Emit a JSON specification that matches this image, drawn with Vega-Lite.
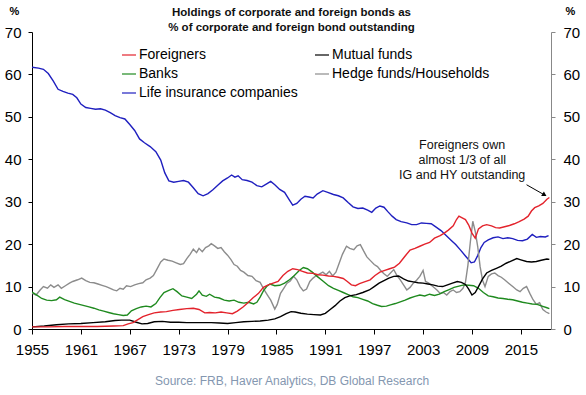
{
  "$schema": "https://vega.github.io/schema/vega-lite/v6.json",
  "width": 519,
  "height": 297,
  "autosize": {"type": "none"},
  "padding": {"left": 32, "top": 32, "right": 35, "bottom": 66},
  "background": "white",
  "config": {
    "font": "Liberation Sans",
    "view": {"stroke": null},
    "axis": {"grid": false, "labelFont": "Liberation Sans", "titleFont": "Liberation Sans"}
  },
  "title": {
    "text": ["Holdings of corporate and foreign bonds as", "% of corporate and foreign bond outstanding"],
    "fontSize": 11.5,
    "fontWeight": "bold",
    "font": "Liberation Sans",
    "color": "#111111",
    "anchor": "middle",
    "lineHeight": 15,
    "offset": -28
  },
  "datasets": {
    "raw": [
      {"series":"Life insurance companies","year":1955.0,"pct":61.7},
      {"series":"Life insurance companies","year":1955.8,"pct":61.5},
      {"series":"Life insurance companies","year":1956.4,"pct":61.2},
      {"series":"Life insurance companies","year":1957.0,"pct":60.2},
      {"series":"Life insurance companies","year":1957.6,"pct":58.5},
      {"series":"Life insurance companies","year":1958.2,"pct":56.5},
      {"series":"Life insurance companies","year":1958.8,"pct":56.0},
      {"series":"Life insurance companies","year":1959.4,"pct":55.6},
      {"series":"Life insurance companies","year":1960.0,"pct":55.3},
      {"series":"Life insurance companies","year":1960.5,"pct":54.5},
      {"series":"Life insurance companies","year":1961.0,"pct":53.0},
      {"series":"Life insurance companies","year":1961.6,"pct":52.2},
      {"series":"Life insurance companies","year":1962.2,"pct":52.0},
      {"series":"Life insurance companies","year":1962.8,"pct":51.8},
      {"series":"Life insurance companies","year":1963.4,"pct":51.9},
      {"series":"Life insurance companies","year":1964.0,"pct":51.6},
      {"series":"Life insurance companies","year":1964.6,"pct":51.0},
      {"series":"Life insurance companies","year":1965.2,"pct":50.3},
      {"series":"Life insurance companies","year":1965.8,"pct":49.8},
      {"series":"Life insurance companies","year":1966.4,"pct":49.5},
      {"series":"Life insurance companies","year":1967.0,"pct":48.2},
      {"series":"Life insurance companies","year":1967.6,"pct":46.8},
      {"series":"Life insurance companies","year":1968.2,"pct":44.8},
      {"series":"Life insurance companies","year":1968.8,"pct":43.9},
      {"series":"Life insurance companies","year":1969.5,"pct":43.0},
      {"series":"Life insurance companies","year":1970.2,"pct":41.8},
      {"series":"Life insurance companies","year":1970.8,"pct":39.8},
      {"series":"Life insurance companies","year":1971.3,"pct":36.8},
      {"series":"Life insurance companies","year":1971.8,"pct":34.9},
      {"series":"Life insurance companies","year":1972.4,"pct":34.6},
      {"series":"Life insurance companies","year":1973.0,"pct":34.8},
      {"series":"Life insurance companies","year":1973.6,"pct":35.0},
      {"series":"Life insurance companies","year":1974.2,"pct":34.6},
      {"series":"Life insurance companies","year":1974.8,"pct":33.3},
      {"series":"Life insurance companies","year":1975.4,"pct":31.9},
      {"series":"Life insurance companies","year":1976.0,"pct":31.4},
      {"series":"Life insurance companies","year":1976.6,"pct":31.9},
      {"series":"Life insurance companies","year":1977.2,"pct":32.8},
      {"series":"Life insurance companies","year":1977.8,"pct":33.9},
      {"series":"Life insurance companies","year":1978.4,"pct":34.9},
      {"series":"Life insurance companies","year":1979.0,"pct":35.6},
      {"series":"Life insurance companies","year":1979.5,"pct":36.3},
      {"series":"Life insurance companies","year":1979.9,"pct":35.8},
      {"series":"Life insurance companies","year":1980.3,"pct":36.1},
      {"series":"Life insurance companies","year":1980.8,"pct":35.2},
      {"series":"Life insurance companies","year":1981.4,"pct":35.0},
      {"series":"Life insurance companies","year":1982.0,"pct":34.6},
      {"series":"Life insurance companies","year":1982.6,"pct":33.8},
      {"series":"Life insurance companies","year":1983.2,"pct":33.5},
      {"series":"Life insurance companies","year":1983.8,"pct":34.2},
      {"series":"Life insurance companies","year":1984.3,"pct":34.8},
      {"series":"Life insurance companies","year":1984.8,"pct":34.0},
      {"series":"Life insurance companies","year":1985.4,"pct":32.9},
      {"series":"Life insurance companies","year":1986.0,"pct":32.2},
      {"series":"Life insurance companies","year":1986.6,"pct":30.4},
      {"series":"Life insurance companies","year":1987.0,"pct":29.2},
      {"series":"Life insurance companies","year":1987.5,"pct":29.6},
      {"series":"Life insurance companies","year":1988.0,"pct":30.6},
      {"series":"Life insurance companies","year":1988.5,"pct":31.3},
      {"series":"Life insurance companies","year":1989.0,"pct":31.1},
      {"series":"Life insurance companies","year":1989.5,"pct":30.9},
      {"series":"Life insurance companies","year":1990.0,"pct":31.8},
      {"series":"Life insurance companies","year":1990.7,"pct":32.6},
      {"series":"Life insurance companies","year":1991.3,"pct":32.2},
      {"series":"Life insurance companies","year":1992.0,"pct":31.7},
      {"series":"Life insurance companies","year":1992.6,"pct":31.4},
      {"series":"Life insurance companies","year":1993.2,"pct":30.9},
      {"series":"Life insurance companies","year":1993.8,"pct":29.8},
      {"series":"Life insurance companies","year":1994.4,"pct":28.8},
      {"series":"Life insurance companies","year":1995.0,"pct":28.4},
      {"series":"Life insurance companies","year":1995.6,"pct":28.5},
      {"series":"Life insurance companies","year":1996.2,"pct":28.0},
      {"series":"Life insurance companies","year":1996.7,"pct":27.5},
      {"series":"Life insurance companies","year":1997.2,"pct":28.5},
      {"series":"Life insurance companies","year":1997.7,"pct":29.0},
      {"series":"Life insurance companies","year":1998.2,"pct":28.7},
      {"series":"Life insurance companies","year":1998.7,"pct":27.6},
      {"series":"Life insurance companies","year":1999.2,"pct":26.6},
      {"series":"Life insurance companies","year":1999.7,"pct":25.8},
      {"series":"Life insurance companies","year":2000.3,"pct":25.3},
      {"series":"Life insurance companies","year":2001.0,"pct":25.0},
      {"series":"Life insurance companies","year":2001.6,"pct":24.6},
      {"series":"Life insurance companies","year":2002.2,"pct":24.6},
      {"series":"Life insurance companies","year":2002.8,"pct":25.0},
      {"series":"Life insurance companies","year":2003.4,"pct":24.9},
      {"series":"Life insurance companies","year":2004.0,"pct":24.8},
      {"series":"Life insurance companies","year":2004.6,"pct":24.0},
      {"series":"Life insurance companies","year":2005.2,"pct":23.2},
      {"series":"Life insurance companies","year":2005.8,"pct":22.1},
      {"series":"Life insurance companies","year":2006.4,"pct":21.0},
      {"series":"Life insurance companies","year":2007.0,"pct":19.9},
      {"series":"Life insurance companies","year":2007.6,"pct":18.6},
      {"series":"Life insurance companies","year":2008.2,"pct":17.2},
      {"series":"Life insurance companies","year":2008.9,"pct":15.6},
      {"series":"Life insurance companies","year":2009.3,"pct":15.8},
      {"series":"Life insurance companies","year":2009.7,"pct":17.3},
      {"series":"Life insurance companies","year":2010.1,"pct":19.2},
      {"series":"Life insurance companies","year":2010.5,"pct":20.4},
      {"series":"Life insurance companies","year":2011.0,"pct":21.0},
      {"series":"Life insurance companies","year":2011.6,"pct":21.5},
      {"series":"Life insurance companies","year":2012.2,"pct":21.7},
      {"series":"Life insurance companies","year":2012.8,"pct":21.3},
      {"series":"Life insurance companies","year":2013.4,"pct":21.5},
      {"series":"Life insurance companies","year":2014.0,"pct":21.3},
      {"series":"Life insurance companies","year":2014.6,"pct":20.9},
      {"series":"Life insurance companies","year":2015.2,"pct":20.8},
      {"series":"Life insurance companies","year":2015.8,"pct":21.2},
      {"series":"Life insurance companies","year":2016.4,"pct":22.3},
      {"series":"Life insurance companies","year":2016.9,"pct":21.6},
      {"series":"Life insurance companies","year":2017.4,"pct":21.8},
      {"series":"Life insurance companies","year":2018.0,"pct":21.7},
      {"series":"Life insurance companies","year":2018.4,"pct":22.0},

      {"series":"Hedge funds/Households","year":1955.0,"pct":8.4},
      {"series":"Hedge funds/Households","year":1955.5,"pct":8.0},
      {"series":"Hedge funds/Households","year":1956.0,"pct":9.2},
      {"series":"Hedge funds/Households","year":1956.4,"pct":10.0},
      {"series":"Hedge funds/Households","year":1956.9,"pct":9.6},
      {"series":"Hedge funds/Households","year":1957.3,"pct":10.4},
      {"series":"Hedge funds/Households","year":1957.7,"pct":9.8},
      {"series":"Hedge funds/Households","year":1958.2,"pct":10.4},
      {"series":"Hedge funds/Households","year":1958.6,"pct":9.6},
      {"series":"Hedge funds/Households","year":1959.1,"pct":10.2},
      {"series":"Hedge funds/Households","year":1959.6,"pct":10.8},
      {"series":"Hedge funds/Households","year":1960.0,"pct":11.2},
      {"series":"Hedge funds/Households","year":1960.6,"pct":11.6},
      {"series":"Hedge funds/Households","year":1961.1,"pct":12.0},
      {"series":"Hedge funds/Households","year":1961.6,"pct":11.4},
      {"series":"Hedge funds/Households","year":1962.1,"pct":11.0},
      {"series":"Hedge funds/Households","year":1962.6,"pct":10.9},
      {"series":"Hedge funds/Households","year":1963.1,"pct":10.6},
      {"series":"Hedge funds/Households","year":1963.6,"pct":10.3},
      {"series":"Hedge funds/Households","year":1964.1,"pct":10.0},
      {"series":"Hedge funds/Households","year":1964.6,"pct":9.6},
      {"series":"Hedge funds/Households","year":1965.0,"pct":9.2},
      {"series":"Hedge funds/Households","year":1965.4,"pct":9.0},
      {"series":"Hedge funds/Households","year":1965.8,"pct":9.6},
      {"series":"Hedge funds/Households","year":1966.2,"pct":9.4},
      {"series":"Hedge funds/Households","year":1966.6,"pct":10.2},
      {"series":"Hedge funds/Households","year":1967.1,"pct":10.0},
      {"series":"Hedge funds/Households","year":1967.6,"pct":10.4},
      {"series":"Hedge funds/Households","year":1968.1,"pct":10.7},
      {"series":"Hedge funds/Households","year":1968.6,"pct":10.9},
      {"series":"Hedge funds/Households","year":1969.0,"pct":11.6},
      {"series":"Hedge funds/Households","year":1969.5,"pct":12.0},
      {"series":"Hedge funds/Households","year":1969.9,"pct":12.6},
      {"series":"Hedge funds/Households","year":1970.3,"pct":14.0},
      {"series":"Hedge funds/Households","year":1970.8,"pct":15.8},
      {"series":"Hedge funds/Households","year":1971.2,"pct":16.5},
      {"series":"Hedge funds/Households","year":1971.7,"pct":16.2},
      {"series":"Hedge funds/Households","year":1972.2,"pct":16.0},
      {"series":"Hedge funds/Households","year":1972.7,"pct":15.6},
      {"series":"Hedge funds/Households","year":1973.2,"pct":15.2},
      {"series":"Hedge funds/Households","year":1973.6,"pct":15.4},
      {"series":"Hedge funds/Households","year":1974.0,"pct":16.6},
      {"series":"Hedge funds/Households","year":1974.4,"pct":17.6},
      {"series":"Hedge funds/Households","year":1974.8,"pct":18.8},
      {"series":"Hedge funds/Households","year":1975.2,"pct":18.0},
      {"series":"Hedge funds/Households","year":1975.5,"pct":19.0},
      {"series":"Hedge funds/Households","year":1975.9,"pct":18.2},
      {"series":"Hedge funds/Households","year":1976.3,"pct":19.2},
      {"series":"Hedge funds/Households","year":1976.7,"pct":19.6},
      {"series":"Hedge funds/Households","year":1977.0,"pct":20.1},
      {"series":"Hedge funds/Households","year":1977.4,"pct":19.6},
      {"series":"Hedge funds/Households","year":1977.8,"pct":19.0},
      {"series":"Hedge funds/Households","year":1978.2,"pct":19.2},
      {"series":"Hedge funds/Households","year":1978.6,"pct":18.2},
      {"series":"Hedge funds/Households","year":1979.0,"pct":17.4},
      {"series":"Hedge funds/Households","year":1979.4,"pct":16.4},
      {"series":"Hedge funds/Households","year":1979.8,"pct":15.2},
      {"series":"Hedge funds/Households","year":1980.2,"pct":14.8},
      {"series":"Hedge funds/Households","year":1980.6,"pct":13.8},
      {"series":"Hedge funds/Households","year":1981.0,"pct":13.4},
      {"series":"Hedge funds/Households","year":1981.5,"pct":12.6},
      {"series":"Hedge funds/Households","year":1982.0,"pct":12.4},
      {"series":"Hedge funds/Households","year":1982.5,"pct":11.4},
      {"series":"Hedge funds/Households","year":1983.0,"pct":11.0},
      {"series":"Hedge funds/Households","year":1983.5,"pct":9.2},
      {"series":"Hedge funds/Households","year":1983.9,"pct":8.0},
      {"series":"Hedge funds/Households","year":1984.3,"pct":6.8},
      {"series":"Hedge funds/Households","year":1984.8,"pct":4.7},
      {"series":"Hedge funds/Households","year":1985.1,"pct":5.8},
      {"series":"Hedge funds/Households","year":1985.5,"pct":8.4},
      {"series":"Hedge funds/Households","year":1985.9,"pct":9.6},
      {"series":"Hedge funds/Households","year":1986.3,"pct":10.8},
      {"series":"Hedge funds/Households","year":1986.7,"pct":11.3},
      {"series":"Hedge funds/Households","year":1987.1,"pct":12.4},
      {"series":"Hedge funds/Households","year":1987.5,"pct":11.6},
      {"series":"Hedge funds/Households","year":1987.9,"pct":10.0},
      {"series":"Hedge funds/Households","year":1988.3,"pct":9.0},
      {"series":"Hedge funds/Households","year":1988.7,"pct":9.4},
      {"series":"Hedge funds/Households","year":1989.1,"pct":11.2},
      {"series":"Hedge funds/Households","year":1989.5,"pct":12.0},
      {"series":"Hedge funds/Households","year":1989.9,"pct":12.6},
      {"series":"Hedge funds/Households","year":1990.3,"pct":13.0},
      {"series":"Hedge funds/Households","year":1990.7,"pct":13.4},
      {"series":"Hedge funds/Households","year":1991.1,"pct":12.8},
      {"series":"Hedge funds/Households","year":1991.5,"pct":13.6},
      {"series":"Hedge funds/Households","year":1991.9,"pct":12.5},
      {"series":"Hedge funds/Households","year":1992.3,"pct":13.4},
      {"series":"Hedge funds/Households","year":1992.7,"pct":15.5},
      {"series":"Hedge funds/Households","year":1993.1,"pct":17.6},
      {"series":"Hedge funds/Households","year":1993.6,"pct":19.5},
      {"series":"Hedge funds/Households","year":1994.0,"pct":19.0},
      {"series":"Hedge funds/Households","year":1994.5,"pct":18.7},
      {"series":"Hedge funds/Households","year":1994.9,"pct":19.6},
      {"series":"Hedge funds/Households","year":1995.3,"pct":19.9},
      {"series":"Hedge funds/Households","year":1995.7,"pct":18.4},
      {"series":"Hedge funds/Households","year":1996.1,"pct":17.0},
      {"series":"Hedge funds/Households","year":1996.6,"pct":16.0},
      {"series":"Hedge funds/Households","year":1997.0,"pct":15.2},
      {"series":"Hedge funds/Households","year":1997.4,"pct":14.7},
      {"series":"Hedge funds/Households","year":1997.8,"pct":13.8},
      {"series":"Hedge funds/Households","year":1998.2,"pct":13.0},
      {"series":"Hedge funds/Households","year":1998.6,"pct":12.4},
      {"series":"Hedge funds/Households","year":1999.0,"pct":13.2},
      {"series":"Hedge funds/Households","year":1999.4,"pct":14.0},
      {"series":"Hedge funds/Households","year":1999.8,"pct":12.6},
      {"series":"Hedge funds/Households","year":2000.2,"pct":11.6},
      {"series":"Hedge funds/Households","year":2000.6,"pct":10.4},
      {"series":"Hedge funds/Households","year":2001.0,"pct":9.2},
      {"series":"Hedge funds/Households","year":2001.4,"pct":9.8},
      {"series":"Hedge funds/Households","year":2001.8,"pct":10.8},
      {"series":"Hedge funds/Households","year":2002.2,"pct":11.5},
      {"series":"Hedge funds/Households","year":2002.6,"pct":12.4},
      {"series":"Hedge funds/Households","year":2003.0,"pct":13.8},
      {"series":"Hedge funds/Households","year":2003.3,"pct":11.2},
      {"series":"Hedge funds/Households","year":2003.7,"pct":10.8},
      {"series":"Hedge funds/Households","year":2004.2,"pct":10.0},
      {"series":"Hedge funds/Households","year":2004.7,"pct":9.2},
      {"series":"Hedge funds/Households","year":2005.1,"pct":8.4},
      {"series":"Hedge funds/Households","year":2005.5,"pct":8.6},
      {"series":"Hedge funds/Households","year":2005.9,"pct":8.0},
      {"series":"Hedge funds/Households","year":2006.3,"pct":8.8},
      {"series":"Hedge funds/Households","year":2006.7,"pct":9.2},
      {"series":"Hedge funds/Households","year":2007.1,"pct":8.6},
      {"series":"Hedge funds/Households","year":2007.5,"pct":8.8},
      {"series":"Hedge funds/Households","year":2007.9,"pct":9.6},
      {"series":"Hedge funds/Households","year":2008.2,"pct":11.0},
      {"series":"Hedge funds/Households","year":2008.5,"pct":15.0},
      {"series":"Hedge funds/Households","year":2008.8,"pct":20.5},
      {"series":"Hedge funds/Households","year":2009.1,"pct":25.4},
      {"series":"Hedge funds/Households","year":2009.4,"pct":23.0},
      {"series":"Hedge funds/Households","year":2009.7,"pct":19.5},
      {"series":"Hedge funds/Households","year":2010.0,"pct":14.7},
      {"series":"Hedge funds/Households","year":2010.3,"pct":11.5},
      {"series":"Hedge funds/Households","year":2010.6,"pct":10.0},
      {"series":"Hedge funds/Households","year":2011.0,"pct":12.4},
      {"series":"Hedge funds/Households","year":2011.4,"pct":13.0},
      {"series":"Hedge funds/Households","year":2011.8,"pct":13.2},
      {"series":"Hedge funds/Households","year":2012.2,"pct":12.6},
      {"series":"Hedge funds/Households","year":2012.6,"pct":12.2},
      {"series":"Hedge funds/Households","year":2013.0,"pct":11.6},
      {"series":"Hedge funds/Households","year":2013.5,"pct":10.8},
      {"series":"Hedge funds/Households","year":2014.0,"pct":10.0},
      {"series":"Hedge funds/Households","year":2014.5,"pct":9.2},
      {"series":"Hedge funds/Households","year":2014.9,"pct":8.8},
      {"series":"Hedge funds/Households","year":2015.3,"pct":9.6},
      {"series":"Hedge funds/Households","year":2015.7,"pct":10.0},
      {"series":"Hedge funds/Households","year":2016.1,"pct":8.4},
      {"series":"Hedge funds/Households","year":2016.5,"pct":6.9},
      {"series":"Hedge funds/Households","year":2016.9,"pct":5.8},
      {"series":"Hedge funds/Households","year":2017.3,"pct":6.2},
      {"series":"Hedge funds/Households","year":2017.7,"pct":4.6},
      {"series":"Hedge funds/Households","year":2018.1,"pct":4.0},
      {"series":"Hedge funds/Households","year":2018.5,"pct":3.6},

      {"series":"Banks","year":1955.0,"pct":8.7},
      {"series":"Banks","year":1955.6,"pct":8.0},
      {"series":"Banks","year":1956.2,"pct":7.2},
      {"series":"Banks","year":1956.8,"pct":6.8},
      {"series":"Banks","year":1957.4,"pct":6.7},
      {"series":"Banks","year":1958.0,"pct":6.9},
      {"series":"Banks","year":1958.4,"pct":7.5},
      {"series":"Banks","year":1959.0,"pct":6.9},
      {"series":"Banks","year":1959.6,"pct":6.5},
      {"series":"Banks","year":1960.2,"pct":6.1},
      {"series":"Banks","year":1960.8,"pct":5.8},
      {"series":"Banks","year":1961.4,"pct":5.5},
      {"series":"Banks","year":1962.0,"pct":5.2},
      {"series":"Banks","year":1962.6,"pct":4.9},
      {"series":"Banks","year":1963.2,"pct":4.5},
      {"series":"Banks","year":1963.8,"pct":4.2},
      {"series":"Banks","year":1964.4,"pct":3.9},
      {"series":"Banks","year":1965.0,"pct":3.6},
      {"series":"Banks","year":1965.6,"pct":3.4},
      {"series":"Banks","year":1966.2,"pct":3.2},
      {"series":"Banks","year":1966.7,"pct":3.3},
      {"series":"Banks","year":1967.2,"pct":4.3},
      {"series":"Banks","year":1967.8,"pct":4.8},
      {"series":"Banks","year":1968.4,"pct":5.2},
      {"series":"Banks","year":1969.0,"pct":5.4},
      {"series":"Banks","year":1969.6,"pct":5.2},
      {"series":"Banks","year":1970.2,"pct":6.0},
      {"series":"Banks","year":1970.7,"pct":7.4},
      {"series":"Banks","year":1971.2,"pct":8.6},
      {"series":"Banks","year":1971.8,"pct":9.1},
      {"series":"Banks","year":1972.3,"pct":9.5},
      {"series":"Banks","year":1972.8,"pct":8.8},
      {"series":"Banks","year":1973.4,"pct":7.8},
      {"series":"Banks","year":1974.0,"pct":7.5},
      {"series":"Banks","year":1974.6,"pct":7.2},
      {"series":"Banks","year":1975.2,"pct":8.2},
      {"series":"Banks","year":1975.5,"pct":9.0},
      {"series":"Banks","year":1975.9,"pct":8.0},
      {"series":"Banks","year":1976.4,"pct":7.7},
      {"series":"Banks","year":1976.8,"pct":8.2},
      {"series":"Banks","year":1977.4,"pct":7.5},
      {"series":"Banks","year":1978.0,"pct":7.3},
      {"series":"Banks","year":1978.6,"pct":6.8},
      {"series":"Banks","year":1979.2,"pct":6.6},
      {"series":"Banks","year":1979.8,"pct":6.8},
      {"series":"Banks","year":1980.4,"pct":6.3},
      {"series":"Banks","year":1981.0,"pct":6.1},
      {"series":"Banks","year":1981.6,"pct":6.3},
      {"series":"Banks","year":1982.2,"pct":5.9},
      {"series":"Banks","year":1982.6,"pct":6.3},
      {"series":"Banks","year":1983.0,"pct":7.5},
      {"series":"Banks","year":1983.4,"pct":9.0},
      {"series":"Banks","year":1983.8,"pct":10.0},
      {"series":"Banks","year":1984.2,"pct":10.6},
      {"series":"Banks","year":1984.8,"pct":10.2},
      {"series":"Banks","year":1985.4,"pct":10.3},
      {"series":"Banks","year":1986.0,"pct":10.8},
      {"series":"Banks","year":1986.6,"pct":11.6},
      {"series":"Banks","year":1987.2,"pct":12.6},
      {"series":"Banks","year":1987.8,"pct":13.8},
      {"series":"Banks","year":1988.3,"pct":14.5},
      {"series":"Banks","year":1988.8,"pct":14.2},
      {"series":"Banks","year":1989.4,"pct":13.4},
      {"series":"Banks","year":1990.0,"pct":12.4},
      {"series":"Banks","year":1990.7,"pct":11.3},
      {"series":"Banks","year":1991.4,"pct":10.2},
      {"series":"Banks","year":1992.0,"pct":9.6},
      {"series":"Banks","year":1992.6,"pct":9.1},
      {"series":"Banks","year":1993.2,"pct":8.6},
      {"series":"Banks","year":1993.8,"pct":8.1},
      {"series":"Banks","year":1994.4,"pct":7.6},
      {"series":"Banks","year":1995.0,"pct":7.4},
      {"series":"Banks","year":1995.6,"pct":7.0},
      {"series":"Banks","year":1996.2,"pct":6.6},
      {"series":"Banks","year":1996.8,"pct":6.0},
      {"series":"Banks","year":1997.4,"pct":5.6},
      {"series":"Banks","year":1997.9,"pct":5.3},
      {"series":"Banks","year":1998.5,"pct":5.4},
      {"series":"Banks","year":1999.0,"pct":5.7},
      {"series":"Banks","year":1999.6,"pct":6.0},
      {"series":"Banks","year":2000.2,"pct":6.4},
      {"series":"Banks","year":2000.8,"pct":6.8},
      {"series":"Banks","year":2001.4,"pct":7.3},
      {"series":"Banks","year":2002.0,"pct":7.7},
      {"series":"Banks","year":2002.6,"pct":8.0},
      {"series":"Banks","year":2003.2,"pct":7.8},
      {"series":"Banks","year":2003.8,"pct":8.2},
      {"series":"Banks","year":2004.4,"pct":7.9},
      {"series":"Banks","year":2005.0,"pct":8.2},
      {"series":"Banks","year":2005.6,"pct":8.8},
      {"series":"Banks","year":2006.2,"pct":9.3},
      {"series":"Banks","year":2006.8,"pct":9.8},
      {"series":"Banks","year":2007.4,"pct":10.1},
      {"series":"Banks","year":2008.0,"pct":10.4},
      {"series":"Banks","year":2008.6,"pct":10.3},
      {"series":"Banks","year":2009.2,"pct":10.2},
      {"series":"Banks","year":2009.8,"pct":9.6},
      {"series":"Banks","year":2010.4,"pct":8.6},
      {"series":"Banks","year":2011.0,"pct":7.8},
      {"series":"Banks","year":2011.6,"pct":7.6},
      {"series":"Banks","year":2012.2,"pct":7.3},
      {"series":"Banks","year":2012.8,"pct":7.2},
      {"series":"Banks","year":2013.4,"pct":7.0},
      {"series":"Banks","year":2014.0,"pct":6.9},
      {"series":"Banks","year":2014.6,"pct":6.6},
      {"series":"Banks","year":2015.2,"pct":6.3},
      {"series":"Banks","year":2015.8,"pct":6.1},
      {"series":"Banks","year":2016.4,"pct":5.9},
      {"series":"Banks","year":2017.0,"pct":5.8},
      {"series":"Banks","year":2017.6,"pct":5.4},
      {"series":"Banks","year":2018.2,"pct":5.0},
      {"series":"Banks","year":2018.5,"pct":4.8},

      {"series":"Mutual funds","year":1955.0,"pct":0.5},
      {"series":"Mutual funds","year":1956.5,"pct":0.7},
      {"series":"Mutual funds","year":1958.0,"pct":1.0},
      {"series":"Mutual funds","year":1959.5,"pct":1.2},
      {"series":"Mutual funds","year":1961.0,"pct":1.3},
      {"series":"Mutual funds","year":1962.5,"pct":1.5},
      {"series":"Mutual funds","year":1964.0,"pct":1.7},
      {"series":"Mutual funds","year":1965.2,"pct":2.0},
      {"series":"Mutual funds","year":1966.0,"pct":2.1},
      {"series":"Mutual funds","year":1967.0,"pct":2.1},
      {"series":"Mutual funds","year":1967.8,"pct":1.6},
      {"series":"Mutual funds","year":1968.5,"pct":1.2},
      {"series":"Mutual funds","year":1969.2,"pct":1.3},
      {"series":"Mutual funds","year":1970.0,"pct":1.7},
      {"series":"Mutual funds","year":1971.0,"pct":1.8},
      {"series":"Mutual funds","year":1972.0,"pct":1.6},
      {"series":"Mutual funds","year":1973.0,"pct":1.6},
      {"series":"Mutual funds","year":1974.0,"pct":1.5},
      {"series":"Mutual funds","year":1975.0,"pct":1.5},
      {"series":"Mutual funds","year":1976.0,"pct":1.5},
      {"series":"Mutual funds","year":1977.0,"pct":1.5},
      {"series":"Mutual funds","year":1978.0,"pct":1.4},
      {"series":"Mutual funds","year":1979.0,"pct":1.3},
      {"series":"Mutual funds","year":1980.0,"pct":1.5},
      {"series":"Mutual funds","year":1981.0,"pct":1.7},
      {"series":"Mutual funds","year":1982.0,"pct":1.8},
      {"series":"Mutual funds","year":1983.0,"pct":1.9},
      {"series":"Mutual funds","year":1984.0,"pct":2.1},
      {"series":"Mutual funds","year":1984.8,"pct":2.4},
      {"series":"Mutual funds","year":1985.5,"pct":2.9},
      {"series":"Mutual funds","year":1986.2,"pct":3.6},
      {"series":"Mutual funds","year":1986.8,"pct":4.1},
      {"series":"Mutual funds","year":1987.3,"pct":4.0},
      {"series":"Mutual funds","year":1988.0,"pct":3.7},
      {"series":"Mutual funds","year":1988.8,"pct":3.5},
      {"series":"Mutual funds","year":1989.6,"pct":3.4},
      {"series":"Mutual funds","year":1990.4,"pct":3.3},
      {"series":"Mutual funds","year":1991.0,"pct":3.7},
      {"series":"Mutual funds","year":1991.6,"pct":4.6},
      {"series":"Mutual funds","year":1992.2,"pct":5.5},
      {"series":"Mutual funds","year":1992.8,"pct":6.6},
      {"series":"Mutual funds","year":1993.4,"pct":7.4},
      {"series":"Mutual funds","year":1994.0,"pct":7.8},
      {"series":"Mutual funds","year":1994.8,"pct":8.1},
      {"series":"Mutual funds","year":1995.6,"pct":8.6},
      {"series":"Mutual funds","year":1996.4,"pct":9.2},
      {"series":"Mutual funds","year":1997.0,"pct":10.0},
      {"series":"Mutual funds","year":1997.6,"pct":10.8},
      {"series":"Mutual funds","year":1998.2,"pct":11.4},
      {"series":"Mutual funds","year":1998.8,"pct":12.0},
      {"series":"Mutual funds","year":1999.4,"pct":12.4},
      {"series":"Mutual funds","year":2000.0,"pct":12.5},
      {"series":"Mutual funds","year":2000.6,"pct":11.8},
      {"series":"Mutual funds","year":2001.2,"pct":11.3},
      {"series":"Mutual funds","year":2001.8,"pct":11.1},
      {"series":"Mutual funds","year":2002.4,"pct":10.9},
      {"series":"Mutual funds","year":2003.0,"pct":10.8},
      {"series":"Mutual funds","year":2003.6,"pct":10.6},
      {"series":"Mutual funds","year":2004.2,"pct":10.4},
      {"series":"Mutual funds","year":2004.8,"pct":10.1},
      {"series":"Mutual funds","year":2005.4,"pct":10.0},
      {"series":"Mutual funds","year":2006.0,"pct":10.4},
      {"series":"Mutual funds","year":2006.6,"pct":10.8},
      {"series":"Mutual funds","year":2007.2,"pct":11.2},
      {"series":"Mutual funds","year":2007.7,"pct":11.0},
      {"series":"Mutual funds","year":2008.2,"pct":10.5},
      {"series":"Mutual funds","year":2008.6,"pct":9.4},
      {"series":"Mutual funds","year":2009.0,"pct":8.0},
      {"series":"Mutual funds","year":2009.4,"pct":8.6},
      {"series":"Mutual funds","year":2009.8,"pct":10.0},
      {"series":"Mutual funds","year":2010.3,"pct":11.8},
      {"series":"Mutual funds","year":2010.8,"pct":13.2},
      {"series":"Mutual funds","year":2011.4,"pct":13.8},
      {"series":"Mutual funds","year":2012.0,"pct":14.3},
      {"series":"Mutual funds","year":2012.6,"pct":14.8},
      {"series":"Mutual funds","year":2013.2,"pct":15.5},
      {"series":"Mutual funds","year":2013.8,"pct":16.0},
      {"series":"Mutual funds","year":2014.5,"pct":16.6},
      {"series":"Mutual funds","year":2015.0,"pct":16.3},
      {"series":"Mutual funds","year":2015.7,"pct":15.9},
      {"series":"Mutual funds","year":2016.3,"pct":15.8},
      {"series":"Mutual funds","year":2016.9,"pct":15.9},
      {"series":"Mutual funds","year":2017.5,"pct":16.2},
      {"series":"Mutual funds","year":2018.2,"pct":16.5},
      {"series":"Mutual funds","year":2018.5,"pct":16.4},

      {"series":"Foreigners","year":1955.0,"pct":0.5},
      {"series":"Foreigners","year":1957.0,"pct":0.5},
      {"series":"Foreigners","year":1959.0,"pct":0.6},
      {"series":"Foreigners","year":1961.0,"pct":0.6},
      {"series":"Foreigners","year":1963.0,"pct":0.6},
      {"series":"Foreigners","year":1965.0,"pct":0.7},
      {"series":"Foreigners","year":1966.2,"pct":0.8},
      {"series":"Foreigners","year":1966.8,"pct":1.2},
      {"series":"Foreigners","year":1967.4,"pct":1.5},
      {"series":"Foreigners","year":1968.0,"pct":2.2},
      {"series":"Foreigners","year":1968.6,"pct":2.9},
      {"series":"Foreigners","year":1969.3,"pct":3.4},
      {"series":"Foreigners","year":1970.0,"pct":3.8},
      {"series":"Foreigners","year":1970.8,"pct":4.0},
      {"series":"Foreigners","year":1971.5,"pct":4.1},
      {"series":"Foreigners","year":1972.3,"pct":4.4},
      {"series":"Foreigners","year":1973.1,"pct":4.6},
      {"series":"Foreigners","year":1974.0,"pct":4.8},
      {"series":"Foreigners","year":1974.8,"pct":4.9},
      {"series":"Foreigners","year":1975.5,"pct":4.6},
      {"series":"Foreigners","year":1976.2,"pct":3.8},
      {"series":"Foreigners","year":1976.8,"pct":3.9},
      {"series":"Foreigners","year":1977.5,"pct":3.8},
      {"series":"Foreigners","year":1978.2,"pct":4.0},
      {"series":"Foreigners","year":1978.9,"pct":3.8},
      {"series":"Foreigners","year":1979.6,"pct":3.6},
      {"series":"Foreigners","year":1980.2,"pct":4.2},
      {"series":"Foreigners","year":1980.9,"pct":5.2},
      {"series":"Foreigners","year":1981.5,"pct":6.2},
      {"series":"Foreigners","year":1982.1,"pct":7.3},
      {"series":"Foreigners","year":1982.8,"pct":8.4},
      {"series":"Foreigners","year":1983.4,"pct":9.8},
      {"series":"Foreigners","year":1984.0,"pct":10.4},
      {"series":"Foreigners","year":1984.6,"pct":10.8},
      {"series":"Foreigners","year":1985.2,"pct":11.2},
      {"series":"Foreigners","year":1985.8,"pct":12.6},
      {"series":"Foreigners","year":1986.4,"pct":13.6},
      {"series":"Foreigners","year":1987.0,"pct":14.2},
      {"series":"Foreigners","year":1987.6,"pct":14.0},
      {"series":"Foreigners","year":1988.2,"pct":13.6},
      {"series":"Foreigners","year":1988.8,"pct":13.2},
      {"series":"Foreigners","year":1989.5,"pct":13.1},
      {"series":"Foreigners","year":1990.1,"pct":12.8},
      {"series":"Foreigners","year":1990.7,"pct":12.7},
      {"series":"Foreigners","year":1991.4,"pct":12.5},
      {"series":"Foreigners","year":1992.0,"pct":12.4},
      {"series":"Foreigners","year":1992.6,"pct":12.2},
      {"series":"Foreigners","year":1993.2,"pct":11.9},
      {"series":"Foreigners","year":1993.7,"pct":11.2},
      {"series":"Foreigners","year":1994.2,"pct":10.4},
      {"series":"Foreigners","year":1994.7,"pct":10.2},
      {"series":"Foreigners","year":1995.2,"pct":10.7},
      {"series":"Foreigners","year":1995.8,"pct":11.1},
      {"series":"Foreigners","year":1996.5,"pct":11.6},
      {"series":"Foreigners","year":1997.1,"pct":12.6},
      {"series":"Foreigners","year":1997.7,"pct":13.4},
      {"series":"Foreigners","year":1998.3,"pct":13.8},
      {"series":"Foreigners","year":1998.9,"pct":14.2},
      {"series":"Foreigners","year":1999.5,"pct":14.6},
      {"series":"Foreigners","year":2000.1,"pct":15.5},
      {"series":"Foreigners","year":2000.8,"pct":17.2},
      {"series":"Foreigners","year":2001.4,"pct":18.6},
      {"series":"Foreigners","year":2002.0,"pct":19.0},
      {"series":"Foreigners","year":2002.6,"pct":19.5},
      {"series":"Foreigners","year":2003.2,"pct":20.0},
      {"series":"Foreigners","year":2003.8,"pct":20.4},
      {"series":"Foreigners","year":2004.4,"pct":21.4},
      {"series":"Foreigners","year":2005.1,"pct":22.0},
      {"series":"Foreigners","year":2005.6,"pct":22.6},
      {"series":"Foreigners","year":2006.1,"pct":23.3},
      {"series":"Foreigners","year":2006.7,"pct":24.3},
      {"series":"Foreigners","year":2007.1,"pct":25.8},
      {"series":"Foreigners","year":2007.4,"pct":26.6},
      {"series":"Foreigners","year":2007.8,"pct":26.2},
      {"series":"Foreigners","year":2008.2,"pct":25.8},
      {"series":"Foreigners","year":2008.6,"pct":24.5},
      {"series":"Foreigners","year":2009.0,"pct":22.6},
      {"series":"Foreigners","year":2009.4,"pct":21.4},
      {"series":"Foreigners","year":2009.8,"pct":23.6},
      {"series":"Foreigners","year":2010.3,"pct":24.3},
      {"series":"Foreigners","year":2010.8,"pct":24.6},
      {"series":"Foreigners","year":2011.4,"pct":24.3},
      {"series":"Foreigners","year":2011.9,"pct":23.9},
      {"series":"Foreigners","year":2012.4,"pct":23.8},
      {"series":"Foreigners","year":2013.0,"pct":24.1},
      {"series":"Foreigners","year":2013.6,"pct":24.4},
      {"series":"Foreigners","year":2014.2,"pct":24.8},
      {"series":"Foreigners","year":2014.8,"pct":25.3},
      {"series":"Foreigners","year":2015.4,"pct":25.9},
      {"series":"Foreigners","year":2015.9,"pct":26.6},
      {"series":"Foreigners","year":2016.3,"pct":27.8},
      {"series":"Foreigners","year":2016.7,"pct":28.6},
      {"series":"Foreigners","year":2017.2,"pct":29.0},
      {"series":"Foreigners","year":2017.7,"pct":29.6},
      {"series":"Foreigners","year":2018.2,"pct":30.6},
      {"series":"Foreigners","year":2018.5,"pct":31.0}
    ],
    "note": [
      {"year": 2007.8, "pct": 43.3, "label": "Foreigners own"},
      {"year": 2007.8, "pct": 39.8, "label": "almost 1/3 of all"},
      {"year": 2007.8, "pct": 36.3, "label": "IG and HY outstanding"}
    ],
    "arrow": [
      {"year": 2015.7, "pct": 34.0, "year2": 2017.9, "pct2": 31.6}
    ]
  },
  "layer": [
    {
      "data": {"name": "raw"},
      "mark": {"type": "line", "strokeWidth": 1.4, "clip": true},
      "encoding": {
        "x": {
          "field": "year", "type": "quantitative",
          "scale": {"domain": [1955, 2018.7], "nice": false, "zero": false},
          "axis": {
            "values": [1955, 1961, 1967, 1973, 1979, 1985, 1991, 1997, 2003, 2009, 2015],
            "format": "d",
            "labelFontSize": 15,
            "labelColor": "#000000",
            "labelPadding": 8,
            "tickSize": 5,
            "tickColor": "#000000",
            "domainColor": "#000000",
            "labelFlush": false,
            "title": "Source: FRB, Haver Analytics, DB Global Research",
            "titleFontSize": 12,
            "titleFontWeight": "normal",
            "titleColor": "#8497b0",
            "titlePadding": 18
          }
        },
        "y": {
          "field": "pct", "type": "quantitative",
          "scale": {"domain": [0, 70], "nice": false},
          "axis": {
            "orient": "left",
            "values": [0, 10, 20, 30, 40, 50, 60, 70],
            "labelFontSize": 15,
            "labelColor": "#000000",
            "labelPadding": 7,
            "tickSize": 4,
            "tickColor": "#000000",
            "domainColor": "#000000",
            "labelFlush": false,
            "title": "%",
            "titleAngle": 0,
            "titleX": -18,
            "titleY": -21,
            "titleAlign": "center",
            "titleBaseline": "middle",
            "titleFontSize": 11,
            "titleFontWeight": "bold"
          }
        },
        "color": {
          "field": "series", "type": "nominal",
          "scale": {
            "domain": ["Foreigners", "Banks", "Life insurance companies", "Mutual funds", "Hedge funds/Households"],
            "range": ["#e3232c", "#1f8a1f", "#1f1fbf", "#000000", "#8c8c8c"]
          },
          "legend": {
            "orient": "none",
            "legendX": 89,
            "legendY": 15,
            "title": null,
            "columns": 2,
            "columnPadding": 14,
            "rowPadding": 4,
            "padding": 0,
            "labelFontSize": 14,
            "labelFont": "Liberation Sans",
            "labelColor": "#000000",
            "labelOffset": 2,
            "symbolType": "stroke",
            "symbolSize": 196,
            "symbolStrokeWidth": 1.2
          }
        }
      }
    },
    {
      "data": {"name": "note"},
      "mark": {"type": "text", "fontSize": 12.5, "font": "Liberation Sans", "color": "#111111", "align": "center", "baseline": "middle"},
      "encoding": {
        "x": {"field": "year", "type": "quantitative"},
        "y": {
          "field": "pct", "type": "quantitative",
          "axis": {
            "orient": "right",
            "values": [0, 10, 20, 30, 40, 50, 60, 70],
            "labelFontSize": 15,
            "labelColor": "#000000",
            "labelPadding": 8,
            "tickSize": 4,
            "tickColor": "#888888",
            "domainColor": "#888888",
            "labelFlush": false,
            "title": "%",
            "titleAngle": 0,
            "titleX": 19,
            "titleY": -21,
            "titleAlign": "center",
            "titleBaseline": "middle",
            "titleFontSize": 11,
            "titleFontWeight": "bold"
          }
        },
        "text": {"field": "label"}
      }
    },
    {
      "data": {"name": "arrow"},
      "mark": {"type": "rule", "color": "#000000", "strokeWidth": 1},
      "encoding": {
        "x": {"field": "year", "type": "quantitative"},
        "y": {"field": "pct", "type": "quantitative", "axis": null},
        "x2": {"field": "year2"},
        "y2": {"field": "pct2"}
      }
    },
    {
      "data": {"name": "arrow"},
      "mark": {"type": "point", "shape": "triangle-up", "filled": true, "color": "#000000", "size": 28, "angle": 121, "opacity": 1},
      "encoding": {
        "x": {"field": "year2", "type": "quantitative"},
        "y": {"field": "pct2", "type": "quantitative", "axis": null}
      }
    }
  ],
  "resolve": {"axis": {"y": "independent"}}
}
